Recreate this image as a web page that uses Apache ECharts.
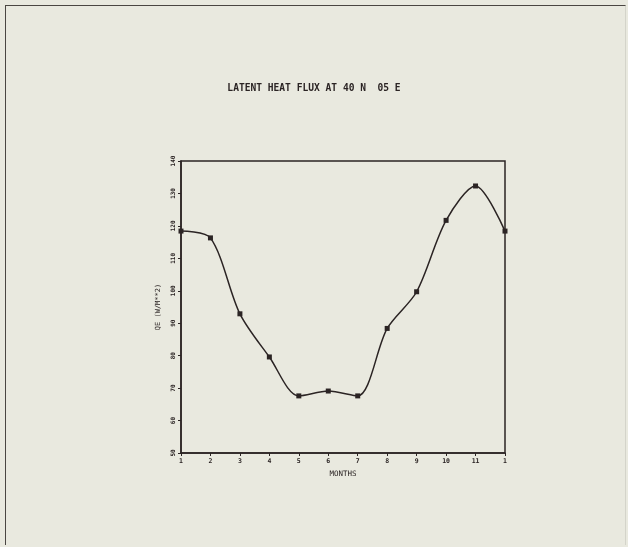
<!DOCTYPE html>
<html>
<head>
<meta charset="utf-8">
<script src="https://cdn.jsdelivr.net/npm/echarts@6/dist/echarts.min.js"></script>
<style>
  html, body { margin: 0; padding: 0; background: #e9e9df; }
  #frame { position: absolute; left: 5px; top: 5px; width: 621px; height: 540px;
           border-left: 1.5px solid #4a4642; border-top: 1.5px solid #4a4642;
           border-right: 1px solid #d4d4ca; box-sizing: border-box; }
  #chart { position: absolute; left: 0; top: 0; width: 628px; height: 547px; }
</style>
</head>
<body>
<div id="frame"></div>
<div id="chart"></div>
<script>
// Monthly latent heat flux, QE (W/m**2), at 40 N 05 E
const monthLabels = ['1', '2', '3', '4', '5', '6', '7', '8', '9', '10', '11', '1'];
const latentFlux = [118.4, 116.3, 92.9, 79.6, 67.6, 69.1, 67.6, 88.4, 99.7, 121.7, 132.3, 118.4];
const yMin = 50, yMax = 140, yStep = 10;

const ink = '#2b2424';
const font = 'DejaVu Sans Mono';

const chart = echarts.init(document.getElementById('chart'), null, { renderer: 'canvas' });
chart.setOption({
  backgroundColor: 'transparent',
  animation: false,
  title: {
    text: 'LATENT HEAT FLUX AT 40 N  05 E',
    left: 'center',
    top: 78,
    textStyle: { fontFamily: font, fontSize: 9.6, fontWeight: 'bold', color: ink }
  },
  grid: {
    left: 181, right: 123, top: 161, bottom: 94,
    show: true, borderColor: ink, borderWidth: 1.5, backgroundColor: 'transparent'
  },
  xAxis: {
    type: 'category',
    data: monthLabels,
    boundaryGap: false,
    name: 'MONTHS',
    nameLocation: 'middle',
    nameGap: 15,
    nameTextStyle: { fontFamily: font, fontSize: 7.5, color: ink },
    axisLine: { lineStyle: { color: ink, width: 1.5 } },
    axisTick: { show: true, length: 3, lineStyle: { color: ink } },
    axisLabel: { fontFamily: font, fontSize: 6.5, color: ink, margin: 5, fontWeight: 'bold' },
    splitLine: { show: false }
  },
  yAxis: {
    type: 'value',
    min: yMin, max: yMax, interval: yStep,
    name: 'QE (W/M**2)',
    nameLocation: 'middle',
    nameGap: 15,
    nameRotate: 90,
    nameTextStyle: { fontFamily: font, fontSize: 7, color: ink },
    axisLine: { show: true, lineStyle: { color: ink, width: 1.5 } },
    axisTick: { show: true, length: 3, lineStyle: { color: ink } },
    axisLabel: { fontFamily: font, fontSize: 6, color: ink, rotate: 90, margin: 5, fontWeight: 'bold' },
    splitLine: { show: false }
  },
  series: [{
    type: 'line',
    data: latentFlux,
    smooth: 0.3,
    symbol: 'rect',
    symbolSize: 5,
    itemStyle: { color: ink },
    lineStyle: { color: ink, width: 1.5 }
  }]
});
</script>
</body>
</html>
